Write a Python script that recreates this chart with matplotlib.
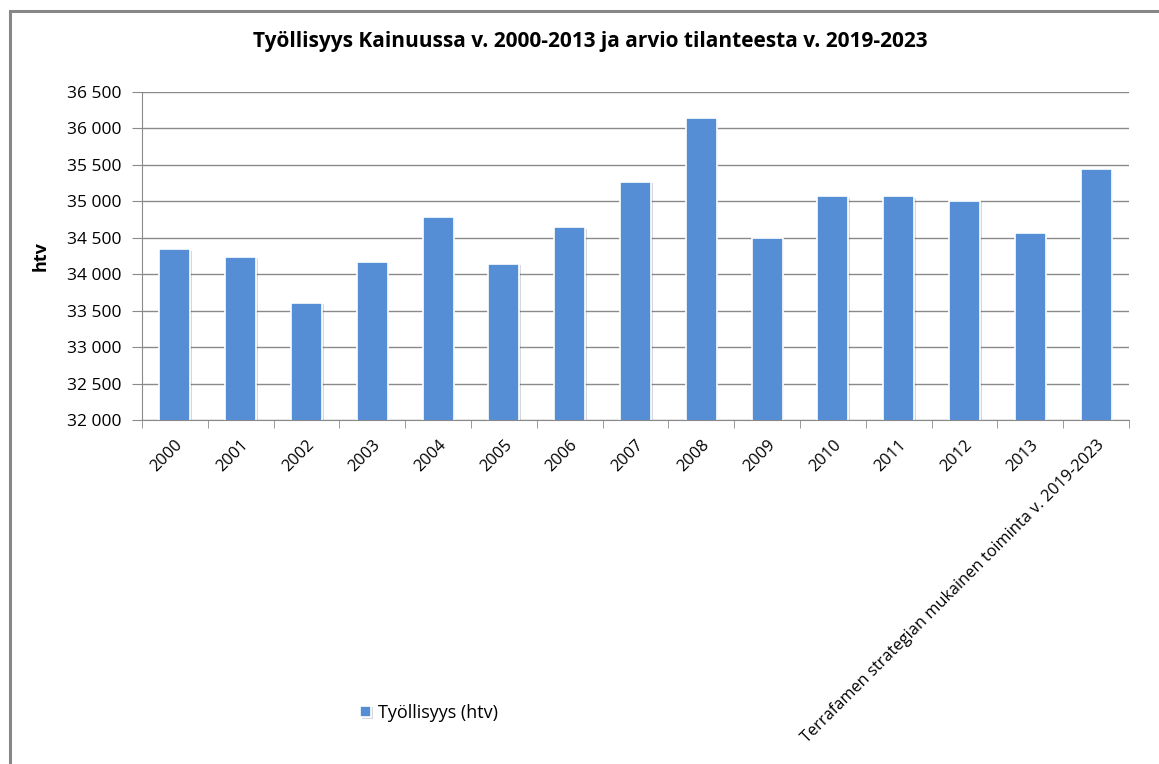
import matplotlib
import numpy as np

matplotlib.use("Agg")
import matplotlib.pyplot as plt  # noqa: E402
import matplotlib.patheffects as pe  # noqa: E402
from matplotlib.patches import Rectangle  # noqa: E402
from matplotlib.ticker import FuncFormatter  # noqa: E402

plt.rcParams["font.family"] = ["Open Sans", "DejaVu Sans"]

categories = ["2000", "2001", "2002", "2003", "2004", "2005", "2006", "2007",
              "2008", "2009", "2010", "2011", "2012", "2013",
              "Terrafamen strategian mukainen toiminta v. 2019-2023"]
htv = [34340, 34240, 33610, 34170, 34790, 34140, 34645, 35270,
       36150, 34500, 35070, 35070, 35010, 34560, 35440]
series_name = "Työllisyys (htv)"
title = "Työllisyys Kainuussa v. 2000-2013 ja arvio tilanteesta v. 2019-2023"

BLUE = "#558ed5"
GRID = "#8a8a8a"
W, H = 1159, 764

fig = plt.figure(figsize=(W / 100, H / 100), dpi=100)
# chart-area border (clipped at right/bottom like the screenshot)
fig.patches.append(Rectangle((10 / W, -0.1), 1.2, 1 - 11 / H + 0.1,
                             transform=fig.transFigure, fill=False,
                             edgecolor="#878787", lw=2.2))

ax = fig.add_axes([142 / W, (H - 420) / H, (1129 - 142) / W, (420 - 92) / H])
x = np.arange(len(categories))
bars = ax.bar(x, htv, width=0.47, color=BLUE, edgecolor="white", lw=1.2,
              label=series_name, zorder=3)
for b in bars:
    b.set_path_effects([pe.SimplePatchShadow(offset=(1.2, -1), alpha=0.18),
                        pe.Normal()])

ax.set_ylim(32000, 36500)
ax.set_yticks(np.arange(32000, 36501, 500))
ax.yaxis.set_major_formatter(FuncFormatter(lambda v, _: f"{int(v):,}".replace(",", " ")))
ax.set_xlim(-0.5, len(categories) - 0.5)
ax.set_xticks(x)
ax.set_xticklabels(categories, rotation=45, ha="right", rotation_mode="anchor",
                   fontsize=11.8)
ax.set_xticks(np.arange(-0.5, len(categories)), minor=True)
ax.tick_params(axis="x", which="major", length=0, pad=12)
ax.tick_params(axis="x", which="minor", length=6, color=GRID)
ax.tick_params(axis="y", length=7, color=GRID, labelsize=12.5, pad=8)

ax.grid(axis="y", color=GRID, lw=1, zorder=0)
for s in ["top", "right"]:
    ax.spines[s].set_visible(False)
for s in ["left", "bottom"]:
    ax.spines[s].set_color(GRID)
ax.set_ylabel("htv", fontsize=13, fontweight="bold", labelpad=12)

fig.text(590 / W, 1 - 42 / H, title, ha="center", va="center",
         fontsize=15, fontweight="bold")

fig.legend(handles=[bars], labels=[series_name], loc="center left",
           bbox_to_anchor=(344 / W, 1 - 713 / H), frameon=False, fontsize=13,
           handlelength=0.6, handleheight=0.6, handletextpad=0.4)

fig.savefig("out.png", dpi=100, facecolor="white")
